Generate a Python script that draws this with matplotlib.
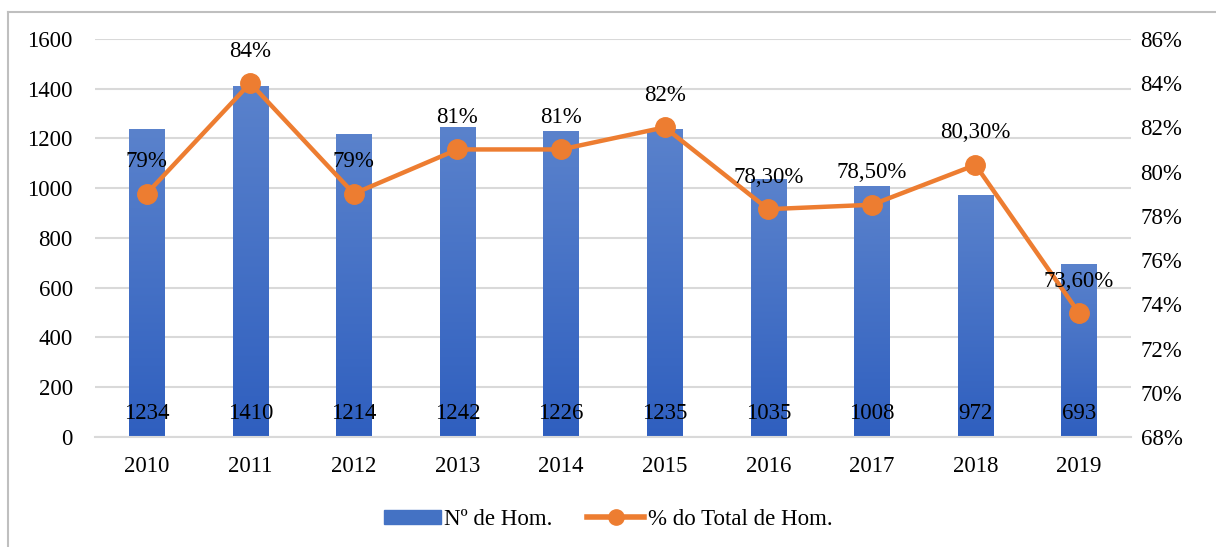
import numpy as np
import matplotlib.pyplot as plt
from matplotlib.lines import Line2D
from matplotlib.colors import LinearSegmentedColormap

plt.rcParams['font.family'] = ['Liberation Serif', 'DejaVu Serif']

years = ['2010', '2011', '2012', '2013', '2014', '2015', '2016', '2017', '2018', '2019']
n_hom = [1234, 1410, 1214, 1242, 1226, 1235, 1035, 1008, 972, 693]
pct_hom = [79, 84, 79, 81, 81, 82, 78.3, 78.5, 80.3, 73.6]
pct_labels = ['79%', '84%', '79%', '81%', '81%', '82%', '78,30%', '78,50%', '80,30%', '73,60%']

bar_color = '#4472C4'
line_color = '#ED7D31'
grid_color = '#D9D9D9'
fs = 16.5

fig = plt.figure(figsize=(12.16, 5.47), dpi=100)
ax = fig.add_axes([0.078, 0.201, 0.852, 0.728])
ax2 = ax.twinx()

x = np.arange(len(years))
bars = ax.bar(x, n_hom, width=0.34, color=bar_color, zorder=2)

# gradient fill on the bars (lighter top, darker bottom)
cmap = LinearSegmentedColormap.from_list('bargrad', ['#2F5FBF', '#5A82CC'])
grad = np.linspace(0, 1, 256).reshape(-1, 1)
for b in bars:
    x0, w, h = b.get_x(), b.get_width(), b.get_height()
    ax.imshow(grad, cmap=cmap, aspect='auto', origin='lower',
              extent=(x0, x0 + w, 0, h), zorder=2.5)
    b.set_alpha(0)

for xi, v in zip(x, n_hom):
    ax.text(xi, 95, str(v), ha='center', va='center', fontsize=fs, zorder=4)

ax.set_xlim(-0.5, len(years) - 0.5)
ax.set_ylim(0, 1600)
ax.set_yticks(range(0, 1601, 200))
ax.set_xticks(x)
ax.set_xticklabels(years)
ax.yaxis.grid(True, color=grid_color, linewidth=1.5, zorder=0)
ax.set_axisbelow(True)
ax.tick_params(axis='both', length=0, labelsize=fs)
ax.tick_params(axis='x', pad=14)
ax.tick_params(axis='y', pad=16)
for s in ['top', 'right', 'left']:
    ax.spines[s].set_visible(False)
ax.spines['bottom'].set_color(grid_color)
ax.spines['bottom'].set_linewidth(1.5)

ax2.plot(x, pct_hom, color=line_color, linewidth=3.2, marker='o',
         markersize=14, zorder=5)
for xi, v, lab in zip(x, pct_hom, pct_labels):
    ax2.text(xi, v + 1.45, lab, ha='center', va='center', fontsize=fs, zorder=6)
ax2.set_ylim(68, 86)
ax2.set_yticks(range(68, 87, 2))
ax2.set_yticklabels([f'{t}%' for t in range(68, 87, 2)])
ax2.tick_params(axis='y', length=0, labelsize=fs, pad=7)
for s in ['top', 'right', 'left', 'bottom']:
    ax2.spines[s].set_visible(False)
ax.set_zorder(1)
ax2.set_zorder(2)
ax2.patch.set_visible(False)

handles = [
    plt.Rectangle((0, 0), 1, 1, color=bar_color),
    Line2D([0], [0], color=line_color, linewidth=4, marker='o', markersize=11),
]
fig.legend(handles, ['Nº de Hom.', '% do Total de Hom.'], loc='center',
           bbox_to_anchor=(0.5, 0.05), ncol=2, frameon=False, fontsize=fs,
           handlelength=2.5, handleheight=0.6, columnspacing=1.5, handletextpad=0.15)

# outer chart border
fig.add_artist(Line2D([8 / 1216, 8 / 1216], [0, 1 - 12 / 547], color='#BFBFBF',
                      linewidth=1.5, transform=fig.transFigure))
fig.add_artist(Line2D([8 / 1216, 1], [1 - 12 / 547, 1 - 12 / 547], color='#BFBFBF',
                      linewidth=1.5, transform=fig.transFigure))

fig.savefig('out.png', dpi=100)
